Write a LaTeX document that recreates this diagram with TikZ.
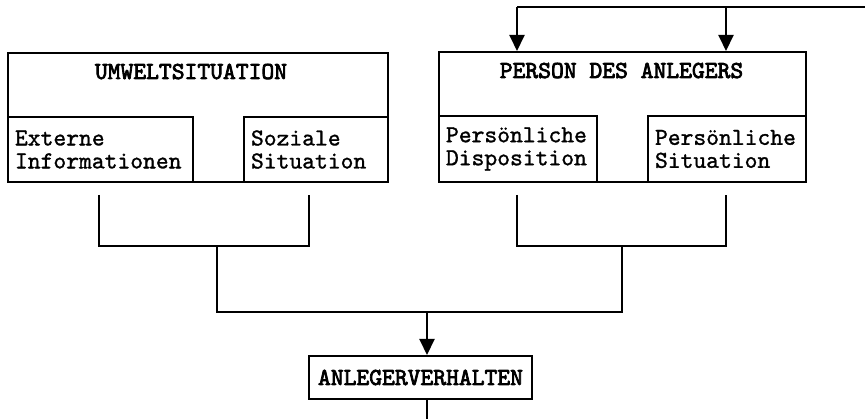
\documentclass[tikz,border=0pt]{standalone}
\usepackage{fontspec}
\newfontfamily\boxfont{lmmono10-regular}[Extension=.otf, FakeBold=1.2]
\newfontfamily\headfont{lmmono10-regular}[Extension=.otf, FakeBold=3]
\usetikzlibrary{arrows.meta,positioning}

\tikzset{
  box/.style={draw, line width=2pt, anchor=north west, inner sep=0pt},
  subbox/.style={box, inner xsep=7pt, align=left, minimum height=65pt,
    font=\boxfont\fontsize{24.4}{23}\selectfont},
  titletext/.style={font=\headfont\fontsize{24.4}{23}\selectfont,
    inner sep=0pt, anchor=base},
  conn/.style={line width=2pt},
  arrow/.style={conn, -{Triangle[width=15pt,length=16pt]}},
}

\begin{document}
\begin{tikzpicture}[x=1pt, y=-1pt]
  \useasboundingbox (0,0) rectangle (865,419);
  \clip (0,0) rectangle (865,419);

  % Umwelt
  \node[box, minimum width=380pt, minimum height=129pt] (umwelt) at (7,52) {};
  \node[titletext] (umwelttitle) at ([xshift=-7pt, yshift=-27pt]umwelt.north) {UMWELTSITUATION};
  \node[subbox, text width=171pt, minimum height=65pt] (extinfo) at (7,116) {Externe\\Informationen};
  \node[subbox, text width=130pt, minimum height=65pt] (sozsit) at (243,116) {Soziale\\Situation};

  % Person
  \node[box, minimum width=367pt, minimum height=130pt] (person) at (438,51) {};
  \node[titletext] (persontitle) at ([xshift=-1pt, yshift=-27pt]person.north) {PERSON DES ANLEGERS};
  \node[subbox, text width=144pt, minimum height=66pt] (perdisp) at (438,115) {Persönliche\\Disposition};
  \node[subbox, text width=144pt, minimum height=66pt] (persit) at (647,115) {Persönliche\\Situation};

  % Verhalten
  \node[box, minimum width=223pt, minimum height=43pt,
    font=\headfont\fontsize{24.4}{23}\selectfont] (anl) at (308,355) {ANLEGERVERHALTEN};

  % Verbindungen
  \foreach \name/\x in {extinfo/99, sozsit/309, perdisp/517, persit/726}
    \coordinate (\name-tick) at (\x,195);
  \coordinate (umweltjoin) at (217,246);
  \coordinate (personjoin) at (622,246);
  \coordinate (mainjoin) at (427,312);
  \coordinate (loopbottom) at (427,425);
  \coordinate (loopright) at (872,425);
  \coordinate (loopcorner) at (872,7);
  \coordinate (looptop) at (517,7);
  \coordinate (loopmid) at (726,7);

  \draw[conn] (extinfo-tick) |- (umweltjoin) -| (sozsit-tick);
  \draw[conn] (perdisp-tick) |- (personjoin) -| (persit-tick);
  \draw[conn] (umweltjoin) |- (mainjoin) -| (personjoin);
  \draw[arrow] (mainjoin) -- (mainjoin |- anl.north);

  % Rueckkopplung
  \draw[conn] (mainjoin |- anl.south) -- (loopbottom) -- (loopright)
    -- (loopcorner) -- (looptop);
  \draw[arrow] (looptop) -- (looptop |- person.north);
  \draw[arrow] (loopmid) -- (loopmid |- person.north);
\end{tikzpicture}
\end{document}
